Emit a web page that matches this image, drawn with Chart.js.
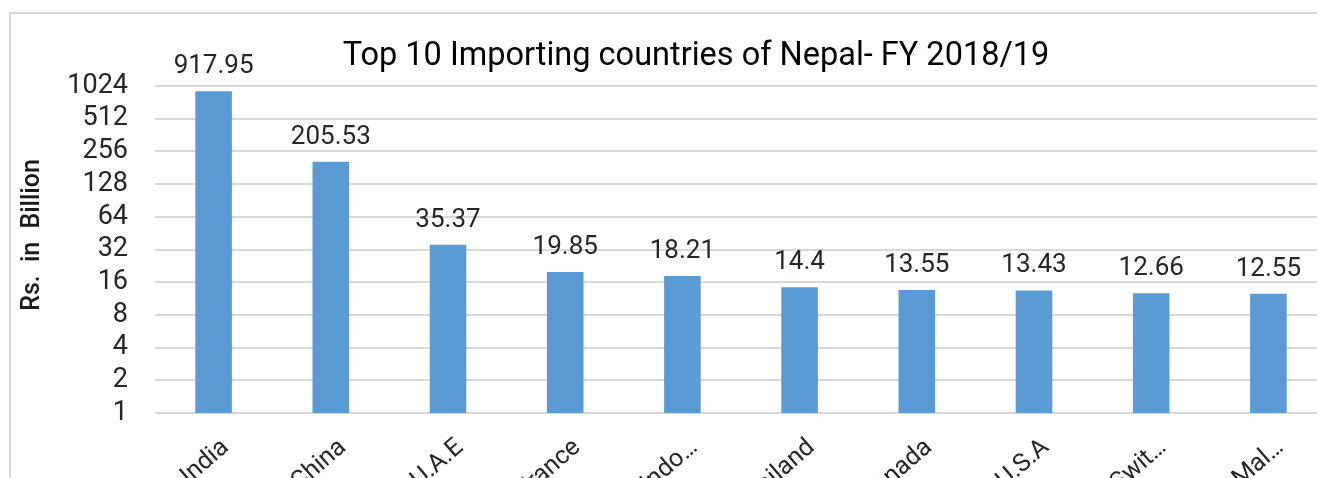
<!DOCTYPE html>
<html>
<head>
<meta charset="utf-8">
<script src="https://cdn.jsdelivr.net/npm/chart.js@4.4.1/dist/chart.umd.min.js"></script>
<style>
  html, body { margin: 0; padding: 0; background: #fff; overflow: hidden; width: 1317px; height: 478px; }
  #frame { position: absolute; left: 9px; top: 12px; width: 1400px; height: 600px;
           border-left: 2px solid #d9d9d9; border-top: 2px solid #d9d9d9; }
  #wrap { position: absolute; left: 0; top: 0; width: 1330px; height: 478px; }
</style>
</head>
<body>
<div id="frame"></div>
<div id="wrap"><canvas id="c" width="1330" height="478"></canvas></div>
<script>
// Import values by country, FY 2018/19 (Rs. in billion)
const countries = ['India', 'China', 'U.A.E', 'France', 'Indo…', 'Thailand', 'Canada', 'U.S.A', 'Swit…', 'Mal…'];
const imports = [917.95, 205.53, 35.37, 19.85, 18.21, 14.4, 13.55, 13.43, 12.66, 12.55];
const yTicks = [1, 2, 4, 8, 16, 32, 64, 128, 256, 512, 1024];
const chartTitle = 'Top 10 Importing countries of Nepal- FY 2018/19';
const yAxisTitle = 'Rs. in Billion';

const FONT = 'Roboto, "Noto Sans", sans-serif';

// Value labels above each bar
const valueLabels = {
  id: 'valueLabels',
  afterDatasetsDraw(chart) {
    const ctx = chart.ctx;
    const meta = chart.getDatasetMeta(0);
    const values = chart.data.datasets[0].data;
    ctx.save();
    ctx.font = '26px ' + FONT;
    ctx.fillStyle = '#262626';
    ctx.textAlign = 'center';
    ctx.textBaseline = 'alphabetic';
    meta.data.forEach((bar, i) => {
      ctx.fillText(String(values[i]), bar.x, bar.y - 18);
    });
    ctx.restore();
  }
};

// Chart heading and the rotated value-axis caption
const captions = {
  id: 'captions',
  afterDraw(chart) {
    const ctx = chart.ctx;
    ctx.save();
    ctx.fillStyle = '#000';
    ctx.font = '32.5px ' + FONT;
    ctx.textAlign = 'center';
    ctx.textBaseline = 'middle';
    ctx.fillText(chartTitle, 696, 57);
    ctx.translate(33, 235);
    ctx.rotate(-Math.PI / 2);
    ctx.font = '500 25px ' + FONT;
    if ('wordSpacing' in ctx) ctx.wordSpacing = '7px';
    ctx.fillStyle = '#1a1a1a';
    ctx.fillText(yAxisTitle, 0, 0);
    ctx.restore();
  }
};

new Chart(document.getElementById('c'), {
  type: 'bar',
  data: {
    labels: countries,
    datasets: [{
      data: imports,
      backgroundColor: '#5b9bd5',
      borderWidth: 0,
      barPercentage: 0.312,
      categoryPercentage: 1
    }]
  },
  options: {
    responsive: false,
    devicePixelRatio: 1,
    animation: false,
    layout: { padding: { top: 86, right: 3, left: 0, bottom: 0 } },
    plugins: { legend: { display: false }, tooltip: { enabled: false }, title: { display: false } },
    scales: {
      x: {
        grid: { display: false },
        border: { display: false },
        ticks: {
          autoSkip: false,
          minRotation: 41,
          maxRotation: 41,
          padding: 12,
          labelOffset: 12,
          color: '#262626',
          font: { family: FONT, size: 25 }
        },
        afterFit(scale) { scale.height = 65; }
      },
      y: {
        type: 'logarithmic',
        min: 1,
        max: 1024,
        border: { display: false },
        grid: { color: '#d9d9d9', lineWidth: 2, drawTicks: false },
        afterBuildTicks(scale) { scale.ticks = yTicks.map(v => ({ value: v })); },
        afterFit(scale) { scale.width = 155; },
        ticks: {
          autoSkip: false,
          padding: 27,
          color: '#262626',
          font: { family: FONT, size: 27 },
          callback: (v) => String(v)
        }
      }
    }
  },
  plugins: [valueLabels, captions]
});
</script>
</body>
</html>
